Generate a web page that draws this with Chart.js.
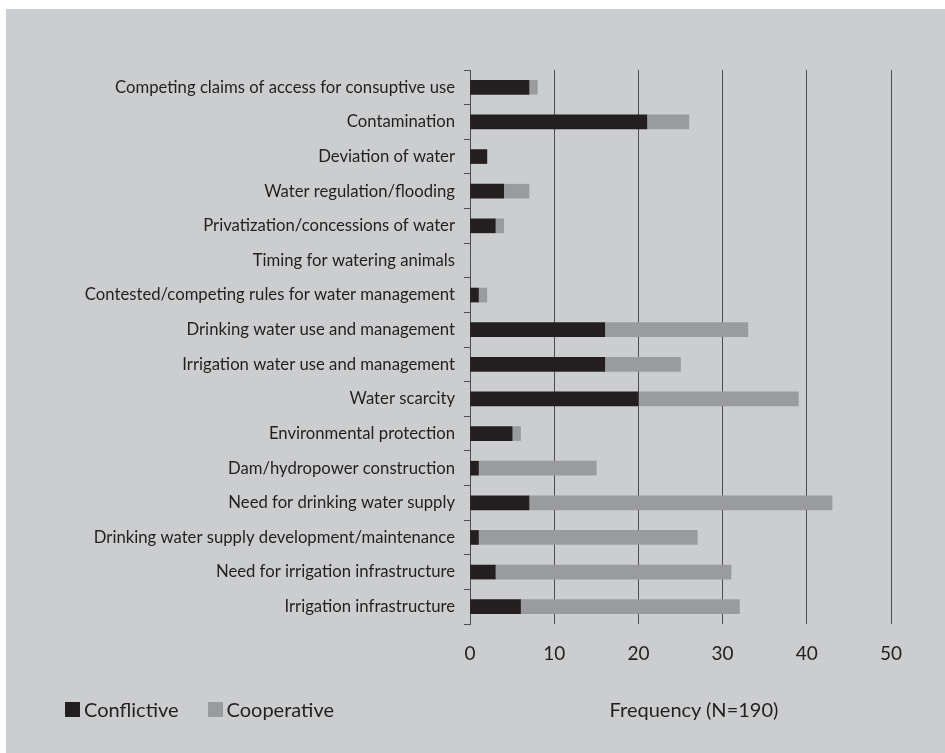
<!DOCTYPE html>
<html>
<head>
<meta charset="utf-8">
<script src="https://cdn.jsdelivr.net/npm/chart.js@4.4.1/dist/chart.umd.min.js"></script>
<style>
    html, body { margin: 0; padding: 0; background: #ffffff; }
    #wrap { position: absolute; left: 6px; top: 9px; width: 939px; height: 744px; background: #cccdcf; }
    #chart { display: block; }
    #legend { position: absolute; left: 59px; top: 688px; display: flex; align-items: center;
        font-family: Lato, sans-serif; font-size: 20px; color: #231f20; }
    .item { display: flex; align-items: center; margin-right: 29px; }
    .swatch { width: 15px; height: 15px; margin-right: 4px; }
    #xtitle { position: absolute; left: 588px; width: 200px; top: 688px; text-align: center;
        font-family: Lato, sans-serif; font-size: 20px; color: #231f20; }
</style>
</head>
<body>
<div id="wrap">
    <canvas id="chart" width="939" height="744"></canvas>
    <div id="legend"></div>
    <div id="xtitle"></div>
</div>
<script>
const categories = [
    'Competing claims of access for consuptive use',
    'Contamination',
    'Deviation of water',
    'Water regulation/flooding',
    'Privatization/concessions of water',
    'Timing for watering animals',
    'Contested/competing rules for water management',
    'Drinking water use and management',
    'Irrigation water use and management',
    'Water scarcity',
    'Environmental protection',
    'Dam/hydropower construction',
    'Need for drinking water supply',
    'Drinking water supply development/maintenance',
    'Need for irrigation infrastructure',
    'Irrigation infrastructure'
];
const conflictive = [7, 21, 2, 4, 3, 0, 1, 16, 16, 20, 5, 1, 7, 1, 3, 6];
const cooperative = [1, 5, 0, 3, 1, 0, 1, 17, 9, 19, 1, 14, 36, 26, 28, 26];
const xTicks = [0, 10, 20, 30, 40, 50];
const xTitle = 'Frequency (N=190)';

const fontFamily = "Lato, sans-serif";
const textColor = '#231f20';
const lineColor = '#4d4d4f';

const ctx = document.getElementById('chart').getContext('2d');
const chart = new Chart(ctx, {
    type: 'bar',
    data: {
        labels: categories,
        datasets: [
            { label: 'Conflictive', data: conflictive, backgroundColor: '#231f20', barThickness: 14 },
            { label: 'Cooperative', data: cooperative, backgroundColor: '#9a9b9d', barThickness: 14 }
        ]
    },
    options: {
        indexAxis: 'y',
        responsive: false,
        animation: false,
        devicePixelRatio: 1,
        layout: { padding: { top: 61, right: 54, left: 0, bottom: 0 } },
        plugins: {
            legend: { display: false },
            tooltip: { enabled: false }
        },
        scales: {
            x: {
                stacked: true,
                min: 0,
                max: 50,
                afterBuildTicks: scale => { scale.ticks = xTicks.map(v => ({ value: v })); },
                afterFit: scale => { scale.height = 129; },
                border: { display: false },
                grid: {
                    drawTicks: false,
                    color: ctx => ctx.tick && ctx.tick.value === 0 ? 'rgba(0,0,0,0)' : lineColor,
                    lineWidth: 1
                },
                ticks: {
                    padding: 18,
                    color: textColor,
                    font: { family: fontFamily, size: 19 }
                }
            },
            y: {
                stacked: true,
                afterFit: scale => { scale.width = 464; },
                border: { display: true, color: lineColor, width: 1 },
                grid: {
                    offset: true,
                    drawOnChartArea: false,
                    tickLength: 6,
                    color: lineColor
                },
                ticks: {
                    padding: 9,
                    color: textColor,
                    font: { family: fontFamily, size: 16.7 }
                }
            }
        }
    }
});

// html legend built from the datasets, plus the axis title
const legend = document.getElementById('legend');
chart.data.datasets.forEach(ds => {
    const item = document.createElement('div');
    item.className = 'item';
    const swatch = document.createElement('span');
    swatch.className = 'swatch';
    swatch.style.background = ds.backgroundColor;
    const label = document.createElement('span');
    label.textContent = ds.label;
    item.appendChild(swatch);
    item.appendChild(label);
    legend.appendChild(item);
});
document.getElementById('xtitle').textContent = xTitle;
</script>
</body>
</html>
